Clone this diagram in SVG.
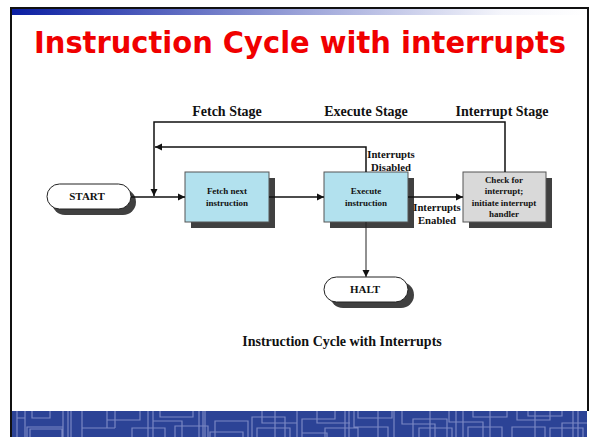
<svg xmlns="http://www.w3.org/2000/svg" width="589" height="437" viewBox="0 0 589 437">
<style>
.ser{font-family:"Liberation Serif","Times New Roman",serif;font-weight:bold;fill:#111;text-anchor:middle}
.stage{font-size:14px}
.lbl{font-size:10.7px}
.box{font-size:9px}
.term{font-size:11px}
.conn{fill:none;stroke:#111;stroke-width:1.5}
.thin{fill:none;stroke:#222;stroke-width:1}
.shadow{fill:#404040}
.proc{stroke:#555;stroke-width:1}
.pat{fill:none;stroke:#7a87c4;stroke-width:1.2}
</style>
<defs>
<linearGradient id="g" x1="0" x2="1" y1="0" y2="0"><stop offset="0" stop-color="#0a1ea2"/><stop offset="0.5" stop-color="#9aa2d8"/><stop offset="0.85" stop-color="#f4f5fb"/><stop offset="1" stop-color="#fff"/></linearGradient>
<marker id="a" markerWidth="8" markerHeight="8" refX="7" refY="4" orient="auto" markerUnits="userSpaceOnUse"><path d="M0 0.5L7 4L0 7.5Z" fill="#111"/></marker>
</defs>
<rect width="589" height="437" fill="#fff"/>
<rect x="11" y="9" width="577" height="6" fill="url(#g)"/>
<path d="M11 437V8H588V411" fill="none" stroke="#111" stroke-width="2"/>
<text x="300" y="53" font-family="'DejaVu Sans',Verdana,sans-serif" font-weight="bold" font-size="30" fill="#f00000" text-anchor="middle" textLength="532" lengthAdjust="spacingAndGlyphs">Instruction Cycle with interrupts</text>
<g id="band">
<rect x="12" y="411" width="575" height="26" fill="#2c4396"/>
<path class="pat" d="M17 411V437M25 411V437M32 411V418H50V411M17 418H25M27 437V427H63M30 437V429H62V437M63 411V437M68 411V437M71 411V437M82 411V437M82 428H115M107 411V428M115 411V428M107 420H140V411M148 411V437M153 411V437M132 437V428H165V437M160 411V417H193V411M153 421H182V437M175 437V426H208V437M199 411V437M203 411V437M205 411V437M215 437V421H248V437M210 437V432H243V437M252 437V417H285V437M262 411V423H297M275 411V437M257 437V428H290V437M297 411V437M302 437V419H335V411M302 433H327V437M325 437V428H358V437M317 411V423H350M345 411V437M349 411V437M354 411V427H388V437M358 411V418H392V411M378 411V437M394 411V437M402 411V424H435V437M413 437V419H447V437M419 437V428H452V437M430 411V437M449 411V422H483V437M456 411V437M463 411V437M468 437V427H502V437M473 411V417H507V411M490 411V437M517 411V420H550V411M528 411V416H562V411M535 411V437M512 437V427H545V437M550 437V428H583V437M562 437V423H587M573 411V437M578 411V437"/>
</g>
<g id="start">
<rect x="52" y="189" width="84" height="26" rx="13" class="shadow"/>
<rect x="47" y="184" width="84" height="25" rx="12.5" fill="#fff" stroke="#222"/>
<text x="87" y="200" class="ser term">START</text>
</g>
<g id="fetch">
<rect x="191" y="178" width="84" height="50" class="shadow"/>
<rect x="185" y="172" width="84" height="50" fill="#b2e1ee" class="proc"/>
<text class="ser box"><tspan x="227" y="194">Fetch next</tspan><tspan x="227" y="206">instruction</tspan></text>
</g>
<g id="execute">
<rect x="330" y="178" width="84" height="50" class="shadow"/>
<rect x="324" y="172" width="84" height="50" fill="#b2e1ee" class="proc"/>
<text class="ser box"><tspan x="366" y="194">Execute</tspan><tspan x="366" y="206">instruction</tspan></text>
</g>
<g id="check">
<rect x="469" y="178" width="83" height="50" class="shadow"/>
<rect x="463" y="172" width="83" height="50" fill="#d9d9d9" class="proc"/>
<text class="ser box"><tspan x="504" y="183">Check for</tspan><tspan x="504" y="194">interrupt;</tspan><tspan x="504" y="206">initiate interrupt</tspan><tspan x="504" y="217">handler</tspan></text>
</g>
<g id="halt">
<rect x="330" y="282" width="84" height="26" rx="13" class="shadow"/>
<rect x="324" y="277" width="84" height="25" rx="12.5" fill="#fff" stroke="#222"/>
<text x="365" y="293" class="ser term">HALT</text>
</g>
<g id="connectors">
<path class="conn" d="M505 172V122H154V196" marker-end="url(#a)"/>
<path class="conn" d="M366 172V147H155" marker-end="url(#a)"/>
<path class="conn" d="M131 197H185" marker-end="url(#a)"/>
<path class="conn" d="M269 197H324" marker-end="url(#a)"/>
<path class="conn" d="M408 197H463" marker-end="url(#a)"/>
<path class="thin" d="M366 222V277" marker-end="url(#a)"/>
</g>
<g id="labels">
<text x="227" y="116" class="ser stage">Fetch Stage</text>
<text x="366" y="116" class="ser stage">Execute Stage</text>
<text x="502" y="116" class="ser stage">Interrupt Stage</text>
<text class="ser lbl"><tspan x="391" y="157.500">Interrupts</tspan><tspan x="391" y="170.500">Disabled</tspan></text>
<text class="ser lbl"><tspan x="437" y="210.500">Interrupts</tspan><tspan x="437" y="223.500">Enabled</tspan></text>
<text x="342" y="346" class="ser" font-size="14">Instruction Cycle with Interrupts</text>
</g>
</svg>
